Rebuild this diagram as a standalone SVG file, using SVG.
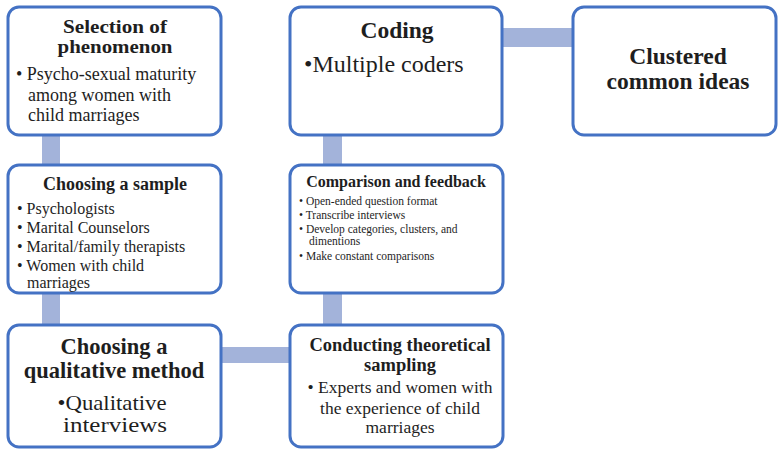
<svg xmlns="http://www.w3.org/2000/svg" width="778" height="449" viewBox="0 0 778 449">
<style>
.box{fill:#fff;stroke:#4472c4;stroke-width:3}
.con{fill:#a3b3da}
text{font-family:"Liberation Serif","DejaVu Serif","Times New Roman",serif;fill:#1e1e1e}
.b{font-weight:bold}
.m{text-anchor:middle}
</style>
<g id="connectors">
<rect class="con" x="42" y="134" width="18" height="32"/>
<rect class="con" x="42" y="292" width="18" height="34"/>
<rect class="con" x="220" y="347" width="71" height="16"/>
<rect class="con" x="323" y="292" width="19" height="34"/>
<rect class="con" x="323" y="134" width="19" height="32"/>
<rect class="con" x="501" y="28" width="73" height="19"/>
</g>
<g id="n1">
<rect class="box" x="8" y="7" width="213" height="128" rx="11"/>
<text class="b m" x="115" y="33" font-size="19" textLength="104" lengthAdjust="spacingAndGlyphs">Selection of</text>
<text class="b m" x="115" y="53" font-size="19" textLength="115" lengthAdjust="spacingAndGlyphs">phenomenon</text>
<text x="16" y="80" font-size="18">• Psycho-sexual maturity</text>
<text x="28" y="101" font-size="18">among women with</text>
<text x="28" y="121" font-size="18">child marriages</text>
</g>
<g id="n2">
<rect class="box" x="8" y="165" width="213" height="128" rx="11"/>
<text class="b m" x="115" y="190" font-size="18">Choosing a sample</text>
<text x="17" y="214" font-size="16">• Psychologists</text>
<text x="17" y="233" font-size="16">• Marital Counselors</text>
<text x="17" y="252" font-size="16">• Marital/family therapists</text>
<text x="17" y="271" font-size="16">• Women with child</text>
<text x="27" y="288" font-size="16">marriages</text>
</g>
<g id="n3">
<rect class="box" x="8" y="325" width="213" height="122" rx="11"/>
<text class="b m" x="114" y="354" font-size="22.5">Choosing a</text>
<text class="b m" x="114" y="378" font-size="22.5">qualitative method</text>
<text class="m" x="112" y="410" font-size="21.5" textLength="109" lengthAdjust="spacingAndGlyphs">•Qualitative</text>
<text class="m" x="115" y="432" font-size="21.5" textLength="104" lengthAdjust="spacingAndGlyphs">interviews</text>
</g>
<g id="n4">
<rect class="box" x="290" y="325" width="213" height="122" rx="11"/>
<text class="b m" x="400" y="351" font-size="18.5">Conducting theoretical</text>
<text class="b m" x="400" y="371" font-size="18.5">sampling</text>
<text class="m" x="400" y="393" font-size="17.5">• Experts and women with</text>
<text class="m" x="400" y="414" font-size="17.5">the experience of child</text>
<text class="m" x="400" y="433" font-size="17.5">marriages</text>
</g>
<g id="n5">
<rect class="box" x="290" y="165" width="213" height="128" rx="11"/>
<text class="b m" x="396" y="187" font-size="16">Comparison and feedback</text>
<text x="299" y="205" font-size="11.5">•  Open-ended question format</text>
<text x="299" y="219" font-size="11.5">•  Transcribe interviews</text>
<text x="299" y="233" font-size="11.5">•  Develop categories, clusters, and</text>
<text x="309" y="245" font-size="11.5">dimentions</text>
<text x="299" y="260" font-size="11.5">•  Make constant comparisons</text>
</g>
<g id="n6">
<rect class="box" x="290" y="7" width="212" height="128" rx="11"/>
<text class="b m" x="397" y="38" font-size="23.5">Coding</text>
<text x="304" y="72" font-size="24">•Multiple coders</text>
</g>
<g id="n7">
<rect class="box" x="573" y="7" width="203" height="128" rx="11"/>
<text class="b m" x="678" y="64" font-size="23.5">Clustered</text>
<text class="b m" x="678" y="89" font-size="23.5">common ideas</text>
</g>
</svg>
